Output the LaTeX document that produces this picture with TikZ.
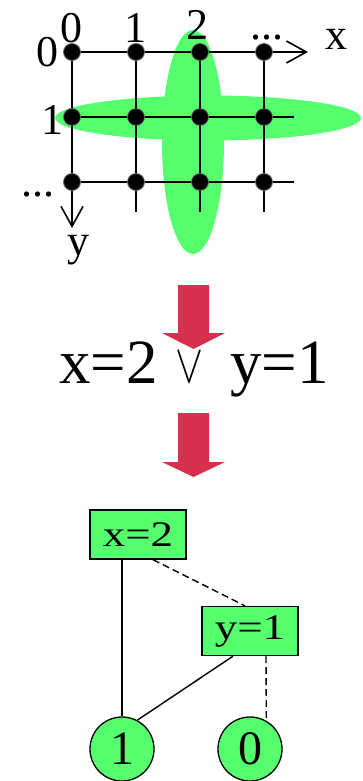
\RequirePackage{fix-cm}
\documentclass[tikz,border=0pt]{standalone}
\usepackage{fontspec}
\setmainfont{Liberation Serif}
\usepackage{graphicx}
\usetikzlibrary{arrows.meta}
\definecolor{lgreen}{RGB}{85,255,110}
\definecolor{redarrow}{RGB}{214,48,78}
\newcommand{\wideT}[1]{\scalebox{1.25}[1]{#1}}
\begin{document}
\begin{tikzpicture}[x=1pt,y=-1pt,
  dot/.style={circle,fill=black,draw=black!60,line width=0.8pt,minimum size=17pt,inner sep=0pt},
  gridline/.style={line width=1.6pt},
  axis/.style={gridline,-{Straight Barb[length=20pt,width=22pt,line width=1.6pt]}},
  lab/.style={font=\fontsize{44}{44}\selectfont,inner sep=0pt,anchor=base},
  bigtxt/.style={font=\fontsize{63}{63}\selectfont,inner sep=0pt},
  redarr/.style={fill=redarrow},
  boxn/.style={draw=black,line width=1.3pt,fill=lgreen,minimum width=96pt,minimum height=49pt,inner sep=0pt,font=\fontsize{36}{36}\selectfont},
  leaf/.style={circle,draw=black,line width=1.3pt,fill=lgreen,minimum size=64pt,inner sep=0pt,font=\fontsize{48}{48}\selectfont},
  edge/.style={line width=1.4pt},
  dedge/.style={line width=1.4pt,dash pattern=on 7pt off 4pt}]
\useasboundingbox (0,0) rectangle (362,781);
% green ellipses
\begin{scope}
\clip (0,0) rectangle (362,781);
\fill[lgreen] (208,118) ellipse [x radius=153pt, y radius=22.5pt];
\fill[lgreen] (193,142) ellipse [x radius=31pt, y radius=112pt];
\end{scope}
% dots
\foreach \c/\x in {0/72,1/136,2/200,3/264}{
  \foreach \r/\y in {0/52,1/117,2/182}{
    \coordinate (p\c\r) at (\x,\y);
  }
}
\coordinate (xend) at (308,52);
\coordinate (yend) at (72,228);
\coordinate (r1e) at (294,117);
\coordinate (r2e) at (294,182);
\coordinate (c1e) at (136,212);
\coordinate (c2e) at (200,212);
\coordinate (c3e) at (264,212);
\draw[axis] (p00) -- (xend);
\draw[axis] (p00) -- (yend);
\draw[gridline] (p01) -- (r1e);
\draw[gridline] (p02) -- (r2e);
\draw[gridline] (p10) -- (c1e);
\draw[gridline] (p20) -- (c2e);
\draw[gridline] (p30) -- (c3e);
\foreach \c in {0,1,2,3}{
  \foreach \r in {0,1,2}{
    \node[dot] (d\c\r) at (p\c\r) {};
  }
}
% grid labels
\node[lab] (t0) at (71,43) {0};
\node[lab] (t1) at (135,43) {1};
\node[lab] (t2) at (197,40) {2};
\node[lab] (l0) at (47,67) {0};
\node[lab] (l1) at (52,135) {1};
\node[lab] (xl) at (336,50) {x};
\node[lab] (yl) at (78,255) {y};
\node[lab] (xdots) at (267,40) {...};
\node[lab] (ydots) at (38,196) {...};
% red arrows
\fill[redarr] (178,285) -- (209,285) -- (209,333) -- (225,333) -- (193.5,349) -- (162,333) -- (178,333) -- cycle;
\fill[redarr] (178,413) -- (209,413) -- (209,462) -- (225,462) -- (193.5,477) -- (162,462) -- (178,462) -- cycle;
% formula
\node[bigtxt,anchor=base east] (fx) at (158,383) {x=2};
\node[inner sep=0pt] (fv) at (189,367) {\scalebox{1}[1.3]{\fontsize{42}{42}\selectfont$\vee$}};
\node[bigtxt,anchor=base west] (fy) at (230,383) {y=1};
% tree
\node[boxn] (bx) at (138,534.5) {\wideT{x=2}};
\node[boxn] (by) at (250,631) {\wideT{y=1}};
\node[leaf] (c1) at (122,749) {1};
\node[leaf] (c0) at (250,749) {0};
\draw[edge] (c1.north |- bx.south) -- (c1.north);
\draw[dedge] ([xshift=15pt]bx.south) -- ([xshift=-5pt]by.north);
\draw[edge] ([xshift=-17pt]by.south) -- (c1.62);
\draw[dedge] ([xshift=16pt]by.south) -- (c0.60);
\end{tikzpicture}
\end{document}
